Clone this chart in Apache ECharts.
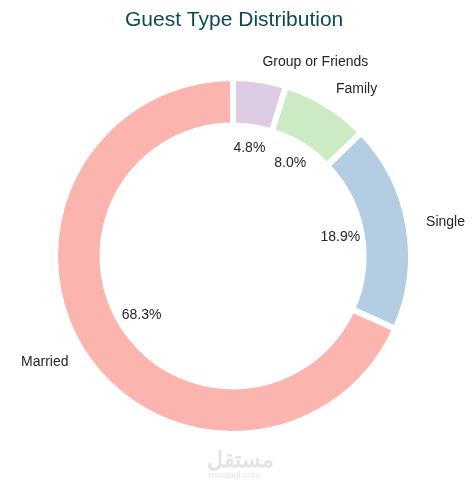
<!DOCTYPE html>
<html>
<head>
<meta charset="utf-8">
<script src="https://cdn.jsdelivr.net/npm/echarts@6/dist/echarts.min.js"></script>
<style>
  html, body { margin: 0; padding: 0; background: #fff; }
  #chart { width: 475px; height: 490px; }
</style>
</head>
<body>
<div id="chart"></div>
<script>
// data
var guestTypes = ["Married", "Single", "Family", "Group or Friends"];
var guestShare = [68.3, 18.9, 8.0, 4.8];
var sliceColors = ["#fbb4ae", "#b3cde3", "#ccebc5", "#decbe4"];

var cx = 233, cy = 256;
var font = "Liberation Sans, Arial, sans-serif";

var ringData = guestTypes.map(function (name, i) {
  return { name: name, value: guestShare[i], itemStyle: { color: sliceColors[i] } };
});
var pctData = guestTypes.map(function (name, i) {
  return { name: name, value: guestShare[i] };
});

var myChart = echarts.init(document.getElementById("chart"), null, { renderer: "canvas" });

var option = {
  backgroundColor: "#ffffff",
  animation: false,
  title: {
    text: "Guest Type Distribution",
    left: 120,
    top: 5,
    textStyle: { fontFamily: font, fontSize: 21, fontWeight: "normal", color: "#0d4a55" }
  },
  graphic: [
    {
      type: "text", left: 207, top: 450, silent: true,
      style: { text: "مستقل", font: "bold 22px 'Noto Sans', sans-serif", fill: "#e4e4e4" }
    },
    {
      type: "text", left: 209, top: 471, silent: true,
      style: { text: "mostaql.com", font: "9px 'Liberation Sans', sans-serif", fill: "#e4e4e4" }
    }
  ],
  series: [
    {
      // ring with names outside
      type: "pie",
      center: [cx, cy],
      radius: [130.5, 178],
      startAngle: 90,
      clockwise: false,
      avoidLabelOverlap: false,
      silent: true,
      itemStyle: { borderColor: "#ffffff", borderWidth: 6 },
      label: {
        show: true,
        position: "outside",
        formatter: "{b}",
        fontFamily: font,
        fontSize: 14,
        color: "#262626",
        distanceToLabelLine: 0
      },
      labelLine: { show: false, length: 18, length2: 0 },
      data: ringData
    },
    {
      // invisible pie carrying the percent labels
      type: "pie",
      center: [cx, cy],
      radius: [0, 212],
      startAngle: 90,
      clockwise: false,
      silent: true,
      z: 3,
      itemStyle: { color: "rgba(0,0,0,0)", borderWidth: 0 },
      label: {
        show: true,
        position: "inside",
        formatter: function (p) { return p.value.toFixed(1) + "%"; },
        fontFamily: font,
        fontSize: 14,
        color: "#262626"
      },
      labelLine: { show: false },
      data: pctData
    }
  ]
};

option && myChart.setOption(option);
</script>
</body>
</html>
